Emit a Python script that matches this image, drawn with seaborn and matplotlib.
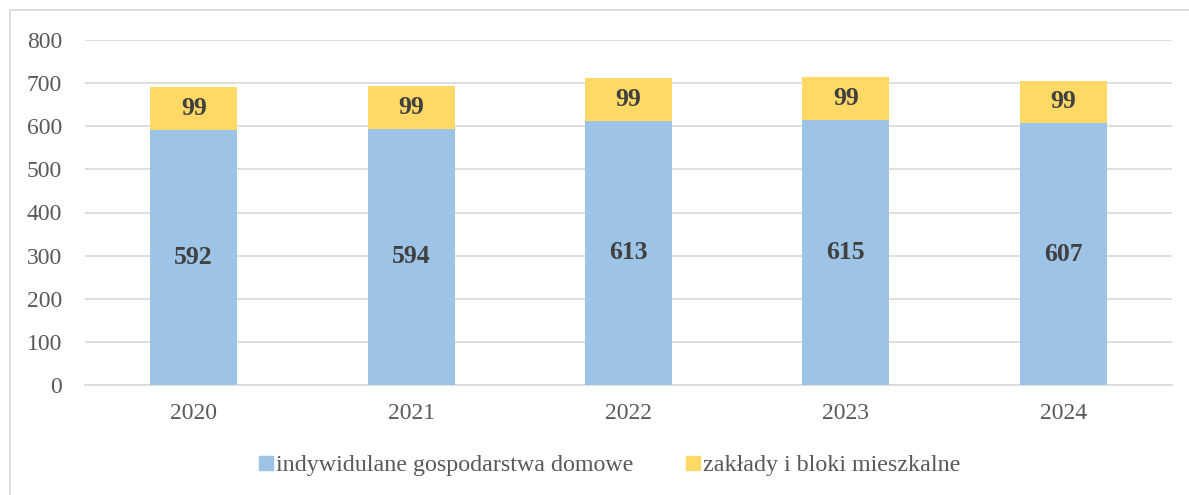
import matplotlib
matplotlib.use("Agg")
import matplotlib.pyplot as plt
import matplotlib.patches as mpatches
import seaborn as sns
import pandas as pd

# data
years = ["2020", "2021", "2022", "2023", "2024"]
households = [592, 594, 613, 615, 607]
plants = [99, 99, 99, 99, 99]
series_names = ["indywidulane gospodarstwa domowe", "zakłady i bloki mieszkalne"]

blue = "#9DC3E6"
yellow = "#FFD966"

sns.set_style("white")
plt.rcParams["font.family"] = ["Liberation Serif", "DejaVu Serif"]

df = pd.DataFrame({"year": years, "households": households, "plants": plants})
df["total"] = df["households"] + df["plants"]

fig = plt.figure(figsize=(11.89, 4.95), dpi=100)
ax = fig.add_axes([85 / 1189, 1 - 385 / 495, (1172 - 85) / 1189, 345 / 495])

# outer frame of the chart area
fig.patches.append(mpatches.Rectangle((10 / 1189, -0.05), 1.1, 1 - 10 / 495 + 0.05,
                                      transform=fig.transFigure, fill=False,
                                      edgecolor="#D9D9D9", linewidth=1.2))

sns.barplot(data=df, x="year", y="total", color=yellow, width=0.4,
            saturation=1, linewidth=0, ax=ax, zorder=2)
sns.barplot(data=df, x="year", y="households", color=blue, width=0.4,
            saturation=1, linewidth=0, ax=ax, zorder=3)

for i, (h, p) in enumerate(zip(households, plants)):
    ax.text(i, h / 2, str(h), ha="center", va="center", fontsize=18.5,
            fontweight="bold", color="#404040", zorder=4)
    ax.text(i, h + p / 2, str(p), ha="center", va="center", fontsize=18.5,
            fontweight="bold", color="#404040", zorder=4)

ax.set_ylim(0, 800)
ax.set_xlim(-0.5, 4.5)
ax.set_yticks(range(0, 801, 100))
ax.yaxis.grid(True, color="#D9D9D9", linewidth=1.2, zorder=0)
ax.set_axisbelow(True)
for s in ["top", "right", "left"]:
    ax.spines[s].set_visible(False)
ax.spines["bottom"].set_color("#D9D9D9")
ax.spines["bottom"].set_linewidth(1.2)
ax.tick_params(axis="both", length=0, labelsize=17, colors="#595959")
ax.tick_params(axis="x", pad=13)
ax.tick_params(axis="y", pad=16.5)
ax.set_xlabel("")
ax.set_ylabel("")

handles = [mpatches.Patch(color=blue, label=series_names[0]),
           mpatches.Patch(color=yellow, label=series_names[1])]
leg = fig.legend(handles=handles, loc="center", bbox_to_anchor=(610 / 1189, 1 - 466 / 495),
                 ncol=2, frameon=False, fontsize=17.3, handlelength=0.55,
                 handleheight=0.55, handletextpad=0.15, columnspacing=2.2)
for t in leg.get_texts():
    t.set_color("#595959")

fig.savefig("out.png", dpi=100)
